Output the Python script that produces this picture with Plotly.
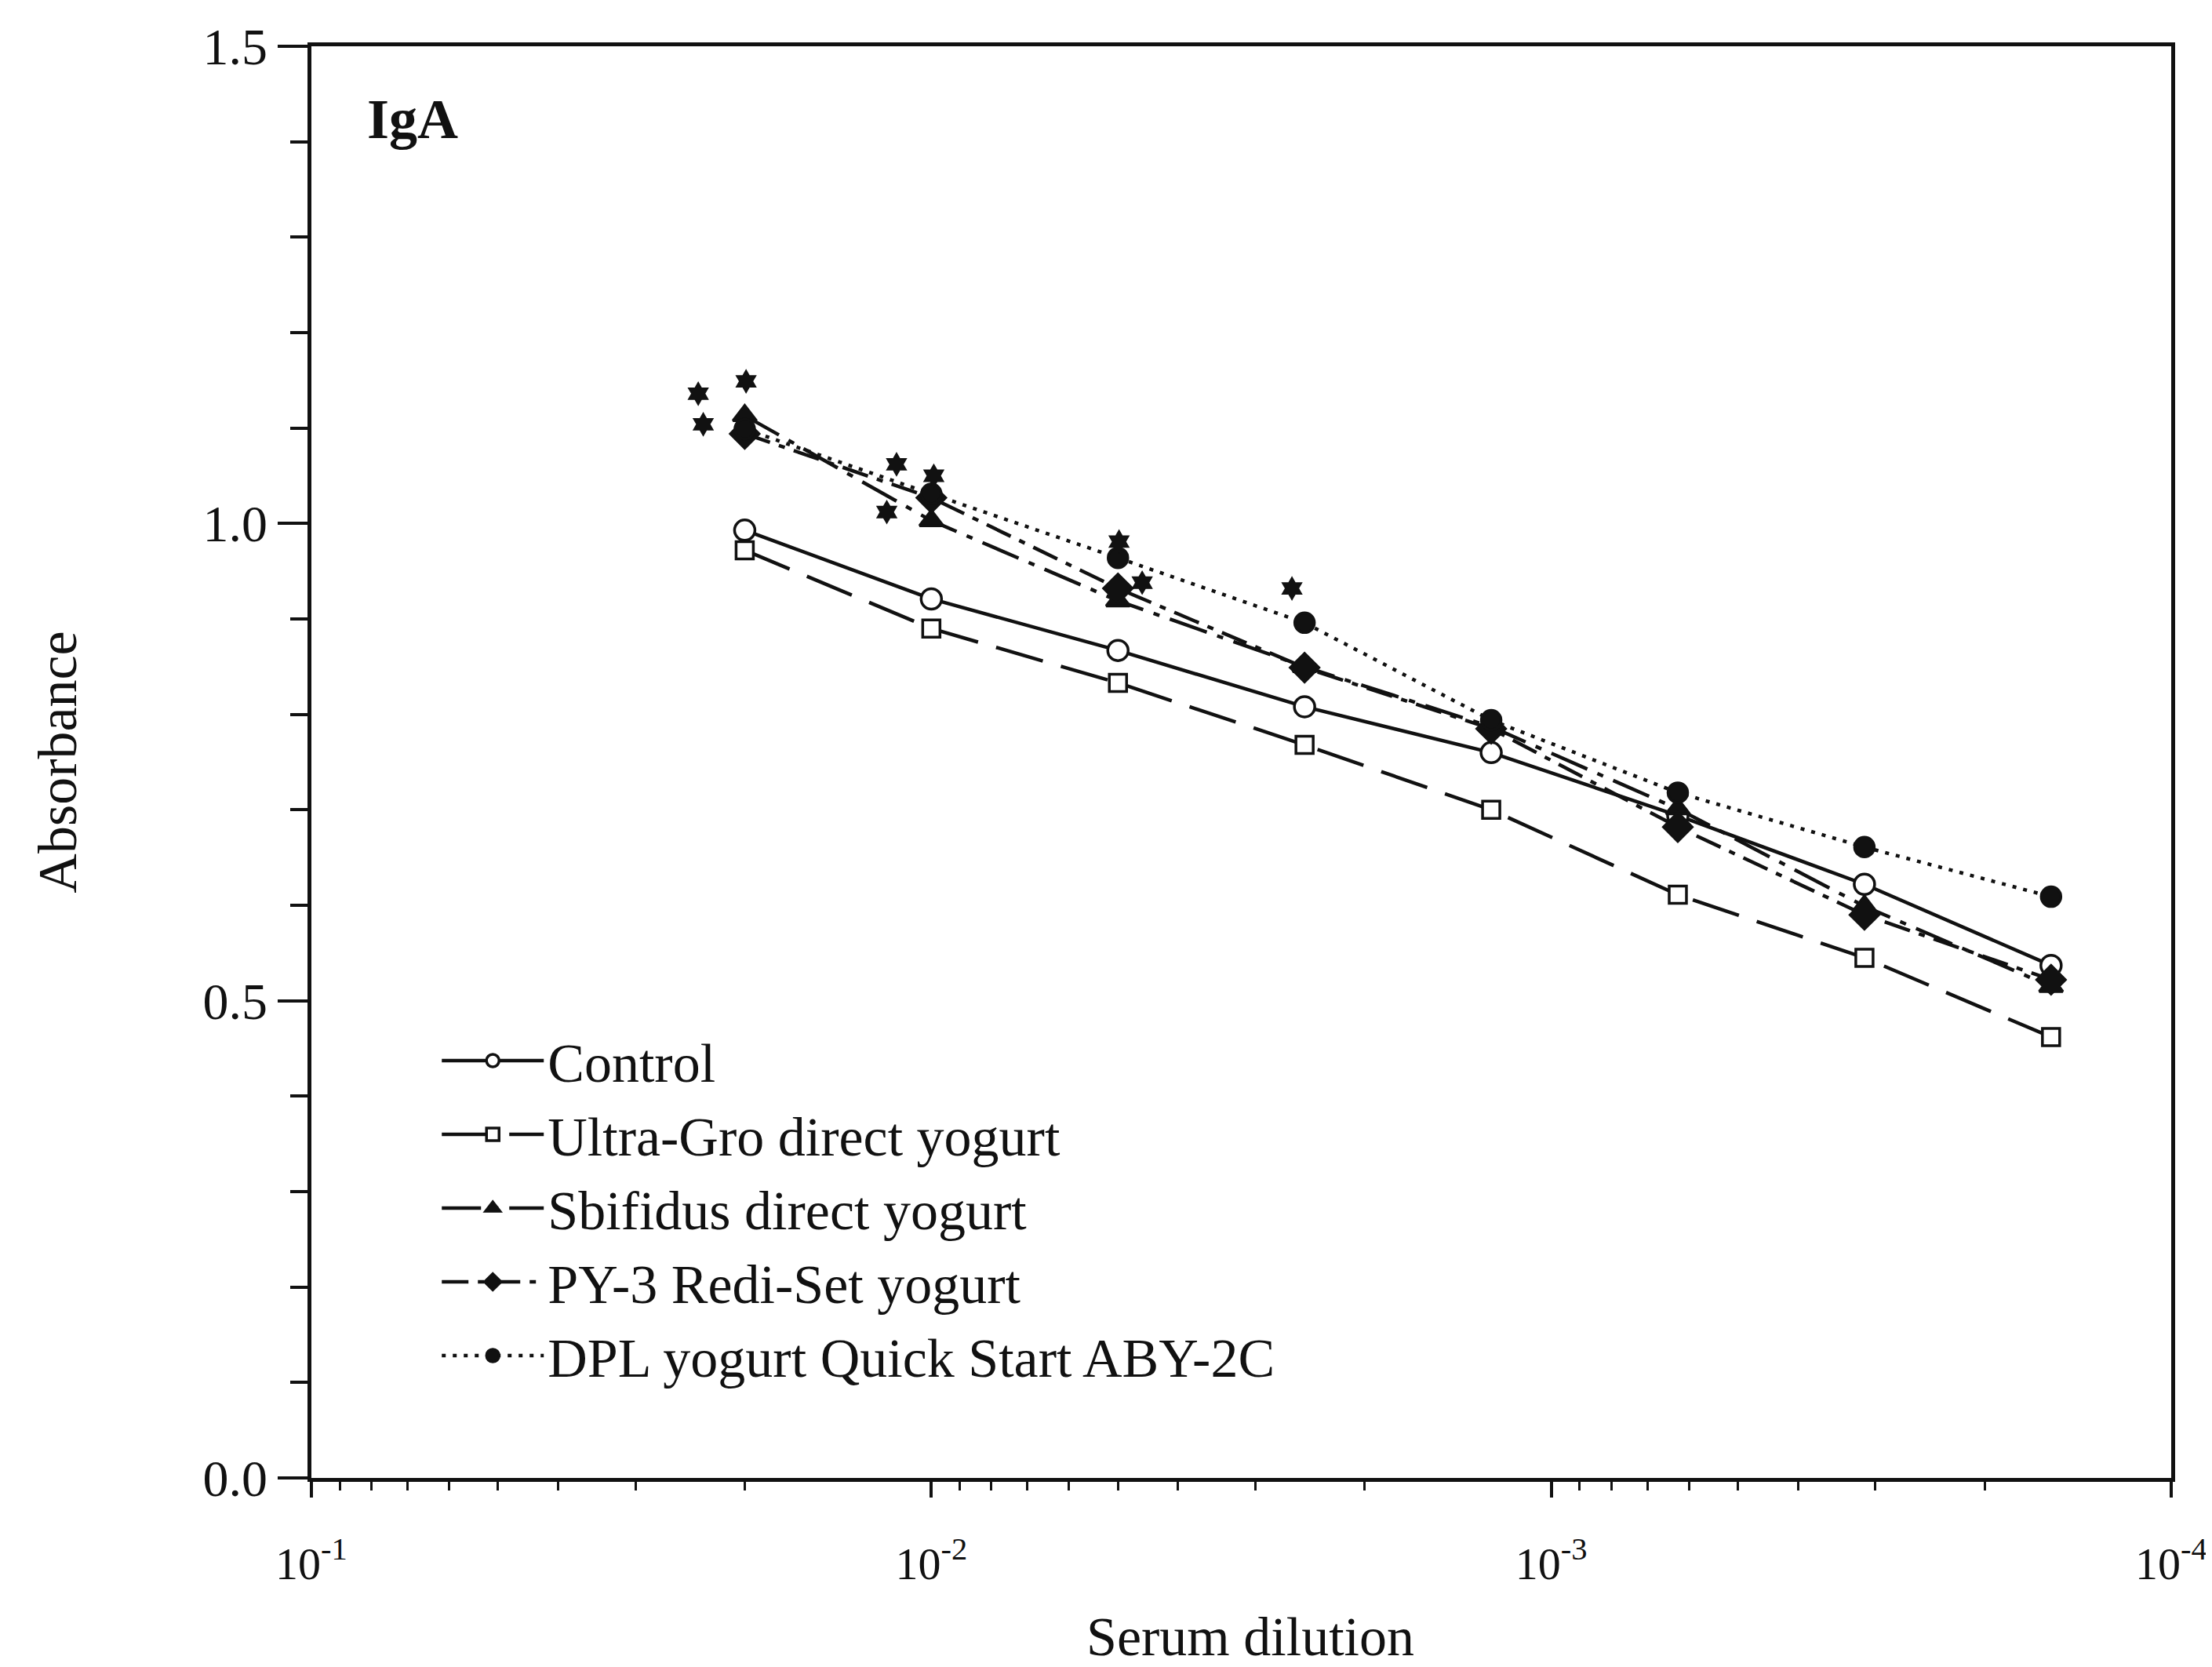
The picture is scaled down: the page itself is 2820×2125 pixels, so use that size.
import plotly.graph_objects as go

# serum dilutions (1/50 ... 1/6400)
dilution = [0.02, 0.01, 0.005, 0.0025, 0.00125, 0.000625, 0.0003125, 0.00015625]

control = [0.993, 0.921, 0.867, 0.808, 0.760, 0.694, 0.622, 0.537]
ultra_gro = [0.972, 0.890, 0.833, 0.768, 0.700, 0.611, 0.545, 0.462]
sbifidus = [1.113, 1.003, 0.919, 0.850, 0.787, 0.701, 0.599, 0.515]
py3 = [1.094, 1.027, 0.932, 0.849, 0.785, 0.682, 0.590, 0.522]
dpl = [1.099, 1.031, 0.964, 0.896, 0.794, 0.718, 0.661, 0.609]

names = ["Control", "Ultra-Gro direct yogurt", "Sbifidus direct yogurt",
         "PY-3 Redi-Set yogurt", "DPL yogurt Quick Start ABY-2C"]

# significance stars
star_x = [0.02377, 0.02333, 0.0199, 0.01138, 0.0118, 0.00991, 0.00498, 0.00457, 0.00262]
star_y = [1.136, 1.104, 1.149, 1.062, 1.012, 1.050, 0.981, 0.938, 0.932]

x_tickvals = [1e-1, 1e-2, 1e-3, 1e-4]
x_ticktext = ["10<sup>-1</sup>", "10<sup>-2</sup>", "10<sup>-3</sup>", "10<sup>-4</sup>"]
y_tickvals = [0.0, 0.5, 1.0, 1.5]
y_ticktext = ["0.0", "0.5", "1.0", "1.5"]

FONT = "Liberation Serif, Times New Roman, serif"
INK = "#111111"

styles = [
    dict(dash="solid", symbol="circle", fill="white", size=26),
    dict(dash="62px,24px", symbol="square", fill="white", size=22),
    dict(dash="50px,14px,8px,14px", symbol="triangle-up", fill=INK, size=26),
    dict(dash="34px,12px,8px,12px", symbol="diamond", fill=INK, size=28),
    dict(dash="5px,9px", symbol="circle", fill=INK, size=25),
]

fig = go.Figure()
for name, ys, st in zip(names, [control, ultra_gro, sbifidus, py3, dpl], styles):
    fig.add_trace(go.Scatter(
        x=dilution, y=ys, name=name, mode="lines+markers",
        line=dict(color=INK, width=4.5, dash=st["dash"]),
        marker=dict(symbol=st["symbol"], size=st["size"], color=st["fill"],
                    line=dict(color=INK, width=3.5)),
    ))

fig.add_trace(go.Scatter(
    x=star_x, y=star_y, mode="markers", showlegend=False,
    marker=dict(symbol="hexagram", size=24, color=INK),
))

minor_x = [m * 10.0 ** e for e in (-2, -3, -4) for m in range(2, 10)]

fig.update_xaxes(
    type="log", range=[-1, -4], automargin=False,
    tickvals=x_tickvals, ticktext=x_ticktext,
    ticks="outside", ticklen=20, tickwidth=3.5, tickcolor=INK,
    minor=dict(tickvals=minor_x, ticks="outside", ticklen=11, tickwidth=3, tickcolor=INK),
    showline=True, linewidth=5, linecolor=INK, mirror=True,
    showgrid=False, zeroline=False,
    tickfont=dict(family=FONT, size=58, color=INK), ticklabelstandoff=34,
)
fig.update_yaxes(
    range=[0, 1.5], automargin=False,
    tickvals=y_tickvals, ticktext=y_ticktext,
    ticks="outside", ticklen=38, tickwidth=3.5, tickcolor=INK,
    minor=dict(dtick=0.1, ticks="outside", ticklen=22, tickwidth=3.5, tickcolor=INK),
    showline=True, linewidth=4.5, linecolor=INK, mirror=True,
    showgrid=False, zeroline=False,
    tickfont=dict(family=FONT, size=66, color=INK), ticklabelstandoff=0,
    title=dict(text="Absorbance", font=dict(family=FONT, size=70, color=INK), standoff=140),
)

# x-axis title as an annotation so it sits fully inside the page
fig.add_annotation(
    text="Serum dilution", xref="paper", yref="paper", x=0.505, y=-0.133,
    xanchor="center", yanchor="bottom", showarrow=False,
    font=dict(family=FONT, size=70, color=INK),
)

fig.add_annotation(
    text="<b>IgA</b>", xref="paper", yref="paper", x=0.029, y=0.949,
    xanchor="left", yanchor="middle", showarrow=False,
    font=dict(family=FONT, size=72, color=INK),
)

fig.update_layout(
    width=2820, height=2125,
    margin=dict(l=389, r=60, t=51, b=249),
    paper_bgcolor="white", plot_bgcolor="white",
    font=dict(family=FONT, color=INK),
    legend=dict(
        x=0.068, y=0.320, xanchor="left", yanchor="top",
        bgcolor="rgba(0,0,0,0)", borderwidth=0,
        font=dict(family=FONT, size=70, color=INK),
        itemwidth=130,
    ),
)

fig.write_html("out.html")
